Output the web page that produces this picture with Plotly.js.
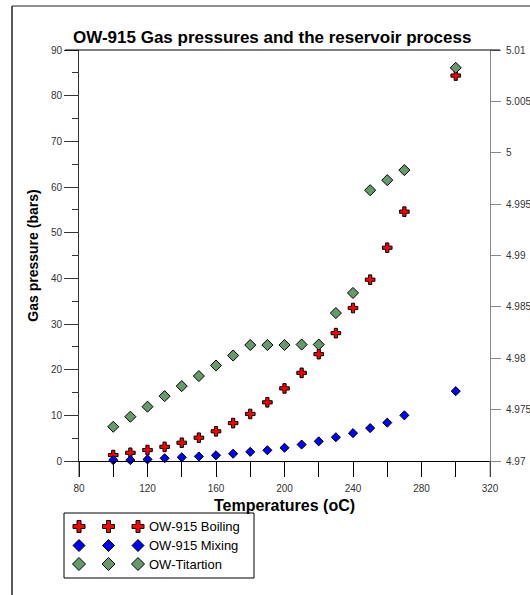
<!DOCTYPE html>
<html>
<head>
<meta charset="utf-8">
<script src="https://cdn.plot.ly/plotly-3.0.1.min.js"></script>
<style>html,body{margin:0;padding:0;background:#fff;}#chart{width:530px;height:595px;}</style>
</head>
<body>
<div id="chart"></div>
<script>
// ---- data ----
const temperatures = [100,110,120,130,140,150,160,170,180,190,200,210,220,230,240,250,260,270,300];
const boiling   = [1.3,1.8,2.4,3.1,4.0,5.1,6.5,8.3,10.3,12.85,15.9,19.3,23.4,28.0,33.5,39.7,46.7,54.6,84.4];
const mixing    = [0.2,0.2,0.35,0.6,0.8,1.0,1.25,1.6,2.0,2.35,2.9,3.6,4.3,5.2,6.1,7.2,8.4,10.0,15.3];
const titration = [7.5,9.7,11.9,14.2,16.4,18.6,20.9,23.1,25.4,25.4,25.4,25.5,25.5,32.4,36.8,59.3,61.5,63.7,86.1];
const seriesNames = ["OW-915 Boiling","OW-915 Mixing","OW-Titartion"];
const rightTickVals = [4.97,4.975,4.98,4.985,4.99,4.995,5,5.005,5.01];
const rightTickText = ["4.97","4.975","4.98","4.985","4.99","4.995","5","5.005","5.01"];

// ---- geometry helpers ----
const PL=79, PR=490, PT=50, PB=461;
const px = x => (x-PL)/(PR-PL);
const py = y => (PB-y)/(PB-PT);
const FONT = "Arial, 'Liberation Sans', sans-serif";

const styles = [
  {color:'#ff0000', symbol:'cross', size:8},
  {color:'#0000ff', symbol:'diamond', size:7},
  {color:'#669a6c', symbol:'diamond', size:8.5}
];
const values = [boiling, mixing, titration];

const traces = values.map((v,i)=>({
  type:'scatter', mode:'markers', x:temperatures, y:v, name:seriesNames[i],
  marker:{color:styles[i].color, symbol:styles[i].symbol, size:styles[i].size, line:{color:'#000', width:1}},
  showlegend:false, cliponaxis:false
}));
traces.push({type:'scatter', x:[], y:[], yaxis:'y2', showlegend:false, hoverinfo:'skip'});

// ---- shapes ----
const shapes = [
  {type:'line', xref:'paper', yref:'paper', x0:px(65), x1:px(500), y0:1, y1:1, line:{color:'#000', width:1}},
  {type:'line', xref:'paper', yref:'paper', x0:0, x1:0, y0:0, y1:py(477), line:{color:'#333', width:1}},
  {type:'line', xref:'paper', yref:'paper', x0:1, x1:1, y0:0, y1:py(477), line:{color:'#888', width:1}},
  {type:'line', xref:'paper', yref:'paper', x0:px(12), x1:px(12), y0:py(6), y1:py(600), line:{color:'#222', width:1.5}},
  {type:'line', xref:'paper', yref:'paper', x0:px(12), x1:px(540), y0:py(6), y1:py(6), line:{color:'#222', width:1}},
  {type:'rect', xref:'paper', yref:'paper', x0:px(64), x1:px(254), y0:py(513), y1:py(578), line:{color:'#000', width:1}, fillcolor:'rgba(0,0,0,0)'}
];
function diamondPath(s){return `M ${-s} 0 L 0 ${s} L ${s} 0 L 0 ${-s} Z`;}
function crossPath(a,t){return `M ${-a} ${-t} L ${-t} ${-t} L ${-t} ${-a} L ${t} ${-a} L ${t} ${-t} L ${a} ${-t} L ${a} ${t} L ${t} ${t} L ${t} ${a} L ${-t} ${a} L ${-t} ${t} L ${-a} ${t} Z`;}
const legendRowsY = [526.5, 545.5, 564];
const legendColsX = [79, 108.5, 138];
const annotations = [];
seriesNames.forEach((name,i)=>{
  legendColsX.forEach(cx=>{
    shapes.push({type:'path', xref:'paper', yref:'paper', xsizemode:'pixel', ysizemode:'pixel',
      xanchor:px(cx), yanchor:py(legendRowsY[i]),
      path: styles[i].symbol==='cross' ? crossPath(6,2) : diamondPath(i===1?6:6.5),
      fillcolor:styles[i].color, line:{color:'#000', width:1}});
  });
  annotations.push({xref:'paper', yref:'paper', x:px(147), y:py(legendRowsY[i]), xanchor:'left', yanchor:'middle',
    text:name, showarrow:false, font:{family:FONT, size:13, color:'#000'}});
});

const layout = {
  width:530, height:595,
  margin:{l:PL, r:530-PR, t:PT, b:595-PB, pad:0},
  paper_bgcolor:'#fff', plot_bgcolor:'#fff',
  font:{family:FONT, color:'#333'},
  title:{text:'OW-915 Gas pressures and the reservoir process', xref:'container', yref:'container',
    x:73/530, xanchor:'left', y:1-37/595, yanchor:'middle',
    font:{family:FONT, size:17, color:'#000', weight:'bold'}},
  xaxis:{range:[80,320], tick0:80, dtick:40, ticks:'outside', ticklen:15, tickcolor:'#000', tickwidth:1,
    minor:{dtick:20, tick0:80, ticks:'outside', ticklen:15, tickcolor:'#000', tickwidth:1},
    showline:true, linecolor:'#000', linewidth:1, showgrid:false, zeroline:false,
    tickfont:{family:FONT, size:10, color:'#333'}, ticklabelstandoff:3,
    title:{text:'Temperatures (oC)', standoff:6, font:{family:FONT, size:16, color:'#000', weight:'bold'}}},
  yaxis:{range:[0,90], tick0:0, dtick:10, ticks:'outside', ticklen:14, tickcolor:'#333', tickwidth:1,
    minor:{dtick:5, ticks:'outside', ticklen:6, tickcolor:'#333', tickwidth:1},
    showline:true, linecolor:'#333', linewidth:1, showgrid:false, zeroline:false,
    tickfont:{family:FONT, size:10, color:'#333'},
    title:{text:'Gas pressure (bars)', standoff:8, font:{family:FONT, size:14, color:'#000', weight:'bold'}}},
  yaxis2:{overlaying:'y', side:'right', range:[4.97,5.01], tickvals:rightTickVals, ticktext:rightTickText,
    ticks:'outside', ticklen:10, tickcolor:'#888', showline:true, linecolor:'#888', linewidth:1,
    showgrid:false, zeroline:false, tickfont:{family:FONT, size:10, color:'#333'}, ticklabelstandoff:3},
  shapes:shapes, annotations:annotations, showlegend:false
};
Plotly.newPlot('chart', traces, layout, {staticPlot:true, displayModeBar:false});
</script>
</body>
</html>
